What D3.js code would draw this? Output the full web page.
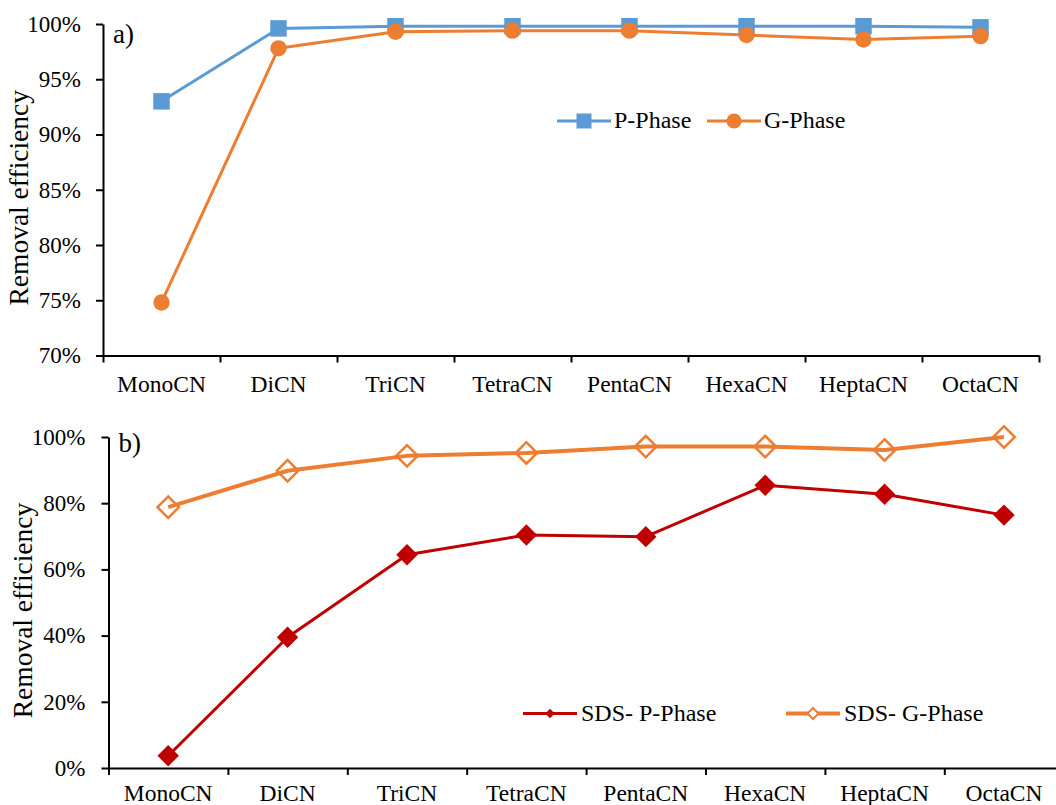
<!DOCTYPE html>
<html>
<head>
<meta charset="utf-8">
<script src="https://cdn.jsdelivr.net/npm/d3@7"></script>
<style>
	body{margin:0;background:#fff;}
	svg{display:block;}
	svg text{font-family:"Liberation Serif","Times New Roman",serif !important;}
</style>
</head>
<body>
<svg id="chart" width="1056" height="805"></svg>
<script>
// categorias y valores (%)
var categorias = ["MonoCN","DiCN","TriCN","TetraCN","PentaCN","HexaCN","HeptaCN","OctaCN"];
var pPhase = [93.0, 99.6, 99.8, 99.8, 99.8, 99.8, 99.8, 99.7];
var gPhase = [74.8, 97.8, 99.3, 99.4, 99.4, 99.0, 98.6, 98.9];
var sdsP = [3.7, 39.5, 64.4, 70.4, 69.9, 85.4, 82.7, 76.4];
var sdsG = [78.8, 89.8, 94.3, 95.2, 97.1, 97.1, 96.1, 100.0];
var ticksA = [70, 75, 80, 85, 90, 95, 100];
var ticksB = [0, 20, 40, 60, 80, 100];

var FONT = "Liberation Serif, Times New Roman, serif";
var svg = d3.select("#chart");

function escala(dom,rango){
	return d3.scaleLinear().domain(dom).range(rango);
}

function toSet(vals){
	return vals.map(function(v,i){ return {key:i, value:v}; });
}

function panel(cfg){
	var g = svg.append("g");
	var sc_x = escala([0,categorias.length],[cfg.x0,cfg.x1]);
	var sc_y = escala(cfg.dom,[cfg.y1,cfg.y0]);

	// eje y
	g.append("g")
		.attr("transform","translate("+cfg.x0+",0)")
		.call(d3.axisLeft(sc_y).tickValues(cfg.ticks).tickFormat(function(d){return d+"%";})
			.tickSize(7).tickSizeOuter(0).tickPadding(cfg.pad))
		.call(function(a){
			a.attr("font-family",FONT).attr("font-size",null);
			a.select(".domain").attr("stroke","#000").attr("stroke-width",2);
			a.selectAll(".tick line").attr("stroke","#000").attr("stroke-width",2);
			a.selectAll("text").attr("fill","#000").style("font-family",FONT).style("font-size","23px");
		});

	// eje x (marcas entre categorias)
	g.append("g")
		.attr("transform","translate(0,"+cfg.y1+")")
		.call(d3.axisBottom(sc_x).tickValues(d3.range(categorias.length+1)).tickFormat("")
			.tickSize(7).tickSizeOuter(0))
		.call(function(a){
			a.select(".domain").attr("stroke","#000").attr("stroke-width",2);
			a.selectAll(".tick line").attr("stroke","#000").attr("stroke-width",2);
		});

	g.selectAll(".cat")
		.data(categorias)
		.enter().append("text")
		.attr("class","cat")
		.attr("x",function(d,i){return sc_x(i+0.5);})
		.attr("y",cfg.y1+cfg.cy)
		.attr("text-anchor","middle")
		.style("font-size","23.5px")
		.text(function(d){return d;});

	// titulo eje y
	g.append("text")
		.attr("transform","translate("+cfg.tx+","+((cfg.y0+cfg.y1)/2+cfg.ty)+") rotate(-90)")
		.attr("text-anchor","middle")
		.style("font-size","27.5px")
		.text("Removal efficiency");

	g.append("text")
		.attr("x",cfg.x0+10)
		.attr("y",cfg.y0+cfg.ly)
		.style("font-size","27px")
		.text(cfg.letra);

	cfg.series.forEach(function(s){
		var line = d3.line()
			.x(function(d){return sc_x(d.key+0.5);})
			.y(function(d){return sc_y(d.value);});
		g.append("path")
			.datum(toSet(s.vals))
			.attr("d",line)
			.attr("fill","none")
			.attr("stroke",s.color)
			.attr("stroke-width",s.lw)
			.attr("stroke-linejoin","round");
		g.selectAll(".m"+s.id)
			.data(toSet(s.vals))
			.enter().append("path")
			.attr("class","m"+s.id)
			.attr("d",d3.symbol().type(s.sym).size(s.size))
			.attr("transform",function(d){return "translate("+sc_x(d.key+0.5)+","+sc_y(d.value)+")"+(s.rot ? " rotate(45)" : "");})
			.attr("fill",s.open ? "none" : s.color)
			.attr("stroke",s.open ? s.color : "none")
			.attr("stroke-width",2.5);

		// leyenda
		var lg = g.append("g").attr("transform","translate("+s.lx+","+s.lyy+")");
		lg.append("line").attr("x1",0).attr("x2",54).attr("stroke",s.color).attr("stroke-width",s.lw);
		lg.append("path")
			.attr("d",d3.symbol().type(s.sym).size(s.lsize))
			.attr("transform","translate(27,0)"+(s.rot ? " rotate(45)" : ""))
			.attr("fill",s.open ? "#fff" : s.color)
			.attr("stroke",s.open ? s.color : "none")
			.attr("stroke-width",2);
		lg.append("text")
			.attr("x",s.tx)
			.attr("y",7)
			.style("font-size","24px")
			.text(s.name);
	});
}

panel({
	x0:103, x1:1039, y0:24, y1:355.5, dom:[70,100], ticks:ticksA, pad:15, cy:36,
	tx:28, ty:8, letra:"a)", ly:19,
	series:[
		{id:"p", name:"P-Phase", vals:pPhase, color:"#5B9BD5", lw:3, sym:d3.symbolSquare, size:272, lsize:225, lx:557, lyy:121, tx:57},
		{id:"g", name:"G-Phase", vals:gPhase, color:"#ED7D31", lw:3, sym:d3.symbolCircle, size:210, lsize:180, lx:707, lyy:121, tx:57}
	]
});

panel({
	x0:108.5, x1:1063.7, y0:437, y1:768, dom:[0,100], ticks:ticksB, pad:16, cy:33,
	tx:32, ty:8, letra:"b)", ly:15,
	series:[
		{id:"sp", name:"SDS- P-Phase", vals:sdsP, color:"#C00000", lw:3, sym:d3.symbolSquare, size:230, lsize:45, rot:true, lx:523, lyy:713.5, tx:58},
		{id:"sg", name:"SDS- G-Phase", vals:sdsG, color:"#ED7D31", lw:4, sym:d3.symbolSquare, size:230, lsize:60, rot:true, open:true, lx:786, lyy:713.5, tx:58}
	]
});
</script>
</body>
</html>
